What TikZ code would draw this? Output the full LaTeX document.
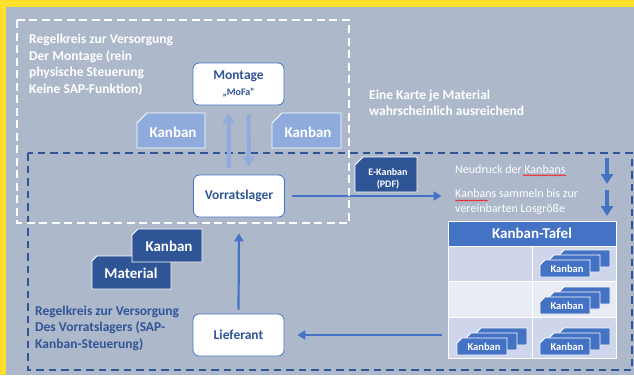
\documentclass[tikz,border=0pt]{standalone}
\usepackage{fontspec}
\setmainfont{Carlito}
\usetikzlibrary{arrows.meta,decorations.pathmorphing}
\definecolor{bgc}{HTML}{ADB9CA}
\definecolor{yel}{HTML}{FFE12B}
\definecolor{dblue}{HTML}{2F5597}
\definecolor{mblue}{HTML}{4472C4}
\definecolor{lblue}{HTML}{8FAADC}
\definecolor{rowa}{HTML}{CFD5EA}
\definecolor{rowb}{HTML}{E9EBF5}
\newcommand\kcard[6]{\path[#6] ({#1},{#2+#5}) -- ({#1+#5},{#2}) -- ({#3},{#2}) -- ({#3},{#4}) -- ({#1},{#4}) -- cycle;}
\newcommand\kstack[3]{%
 \kcard{#1+20}{#2-10}{#1+70}{#2+7}{4}{smallcard}
 \kcard{#1+10}{#2-5}{#1+60}{#2+12}{4}{smallcard}
 \kcard{#1}{#2}{#1+50}{#2+17}{5}{smallcard}
 \node[smalltext] (#3) at ({#1+27},{#2+9}) {Kanban};}
\begin{document}
\begin{tikzpicture}[x=1pt,y=-1pt,
  box/.style={draw=mblue,line width=0.8pt,fill=white,rounded corners=6pt,minimum width=91pt,minimum height=42pt,inner sep=0pt,align=center,text=dblue,font=\bfseries\fontsize{13.5}{15}\selectfont},
  whitedash/.style={draw=white,line width=1.8pt,dash pattern=on 8pt off 4.5pt},
  bluedash/.style={draw=dblue,line width=1.8pt,dash pattern=on 7.5pt off 5pt},
  lightarrow/.style={draw=lblue,line width=4pt,-{Triangle[width=12pt,length=10pt]}},
  bluearrow/.style={draw=mblue,line width=2.2pt,-{Triangle[width=9pt,length=8pt]}},
  thickarrow/.style={draw=mblue,line width=4pt,-{Triangle[width=12pt,length=10pt]}},
  lightcard/.style={fill=lblue,draw=white,line width=0.8pt},
  darkcard/.style={fill=dblue,draw=white,line width=0.8pt},
  smallcard/.style={fill=mblue,draw=white,line width=0.8pt},
  cardtext/.style={text=white,inner sep=0pt,font=\bfseries\fontsize{15}{17}\selectfont},
  smalltext/.style={text=white,inner sep=0pt,font=\bfseries\fontsize{10.5}{12}\selectfont},
  wtext/.style={text=white,inner sep=0pt,align=left,anchor=north west,font=\bfseries\fontsize{13.5}{16.5}\selectfont},
  ntext/.style={text=white,inner sep=0pt,align=left,anchor=north west,font=\fontsize{12}{15}\selectfont},
  btext/.style={text=dblue,inner sep=0pt,align=left,anchor=north west,font=\bfseries\fontsize{13.5}{16.5}\selectfont},
  cell/.style={draw=white,line width=1pt},
  wavy/.style={draw=red,line width=0.5pt,decorate,decoration={snake,amplitude=0.6pt,segment length=2.5pt}}
]
\useasboundingbox (0,0) rectangle (634,375);
\fill[yel] (0,0) rectangle (634,375);
\fill[bgc] (6,7) rectangle (634,375);

% blue dashed frame
\draw[bluedash] (28,153) rectangle (632,370);

% table
\fill[rowa] (448,246) rectangle (616,281);
\fill[rowb] (448,281) rectangle (616,317);
\fill[rowa] (448,317) rectangle (616,358);
\draw[cell] (448,246) rectangle (616,358);
\draw[cell] (448,281) -- (616,281);
\draw[cell] (448,317) -- (616,317);
\draw[cell] (532,246) -- (532,358);
\node[draw=white,line width=1pt,fill=mblue,minimum width=168pt,minimum height=25pt,inner sep=0pt,text=white,font=\bfseries\fontsize{15}{17}\selectfont] (tafel) at (532,233.5) {Kanban-Tafel};
\kstack{540}{260}{k1}
\kstack{540}{297}{k2}
\kstack{540}{338}{k3}
\kstack{457}{338}{k4}

% boxes
\node[box] (montage) at (238.5,84) {Montage\\[1pt]{\fontsize{10}{12}\selectfont „MoFa“}};
\node[box] (vorrat) at (239,196) {Vorratslager};
\node[box] (lieferant) at (238.5,335) {Lieferant};

% light arrows
\draw[lightarrow,shorten <=7pt,shorten >=8pt] ([xshift=-10pt]vorrat.north) -- ([xshift=-10pt]montage.south);
\draw[lightarrow,shorten <=9pt,shorten >=8pt] ([xshift=10pt]montage.south) -- ([xshift=10pt]vorrat.north);

% light kanban cards
\kcard{137}{113}{205}{148}{10}{lightcard}
\node[cardtext] (kl1) at (173,132) {Kanban};
\kcard{272}{113}{341}{148}{10}{lightcard}
\node[cardtext] (kl2) at (308,132) {Kanban};

% blue arrows
\draw[bluearrow,shorten <=7pt,shorten >=6pt] (vorrat.east) -- (vorrat.east -| tafel.west);
\draw[bluearrow,shorten <=6pt,shorten >=13pt] (lieferant.east -| tafel.west) -- (lieferant.east);
\draw[bluearrow,shorten <=4pt,shorten >=16pt] (lieferant.north) -- (vorrat.south);

% right down arrows
\coordinate (d1s) at (607,158);
\coordinate (d1e) at (607,184);
\coordinate (d2s) at (607,190);
\coordinate (d2e) at (607,216);
\draw[thickarrow] (d1s) -- (d1e);
\draw[thickarrow] (d2s) -- (d2e);

% E-Kanban
\kcard{355}{157}{417}{192}{8}{darkcard}
\node[smalltext,align=center,font=\bfseries\fontsize{10}{12}\selectfont] (ek) at (388,178.5) {E-Kanban\\(PDF)};

% Material / Kanban dark
\kcard{92}{256}{171}{289}{5}{darkcard}
\node[cardtext] (mat) at (131,273.5) {Material};
\kcard{132}{229}{202}{262}{6}{darkcard}
\node[cardtext] (kd) at (169,246.5) {Kanban};

% white dashed frame
\draw[whitedash] (17,20) rectangle (349,223);

% texts
\node[wtext] (t1) at (29,34) {Regelkreis zur Versorgung\\Der Montage (rein\\physische Steuerung\\Keine SAP-Funktion)};
\node[wtext] (t2) at (369,89.5) {Eine Karte je Material\\wahrscheinlich ausreichend};
\node[btext] (t3) at (35,305.5) {Regelkreis zur Versorgung\\Des Vorratslagers (SAP-\\Kanban-Steuerung)};
\node[ntext] (t4) at (455,164.5) {Neudruck der Kanbans};
\node[ntext] (t5) at (455,188.5) {Kanbans sammeln bis zur\\vereinbarten Losgröße};
\draw[wavy] (t4.south east) ++(-43,2) -- ++(43,0);
\draw[wavy] (t5.north west) ++(0,12) -- ++(33,0);
\end{tikzpicture}
\end{document}
